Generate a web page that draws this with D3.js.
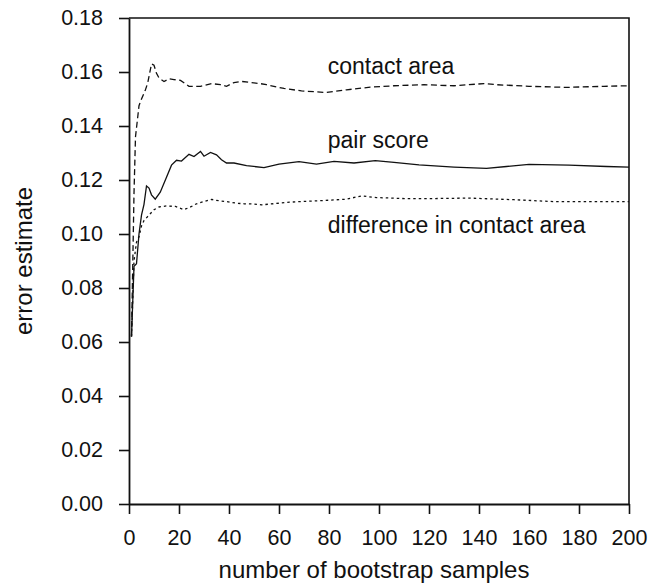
<!DOCTYPE html>
<html>
<head>
<meta charset="utf-8">
<script src="https://cdn.jsdelivr.net/npm/d3@7"></script>
<style>
  body { margin: 0; background: #fff; }
  svg { display: block; font-family: "Liberation Sans", Arial, Helvetica, sans-serif; }
</style>
</head>
<body>
<svg id="chart"></svg>
<script>
const vWidth = 652
const vHeight = 584
const margin = { top: 18, right: 23, bottom: 80, left: 129 }

// [number of bootstrap samples, error estimate]
const contactArea = [
  [1, 0.062], [2, 0.115], [2.6, 0.136], [4, 0.1475], [5, 0.150], [6.5, 0.1532],
  [7.5, 0.156], [9, 0.163], [10, 0.1625], [11, 0.1595], [12, 0.1578], [14, 0.1565],
  [16, 0.1575], [18, 0.1572], [20.6, 0.1569], [24, 0.1547], [28.6, 0.1547],
  [33, 0.1557], [36.6, 0.1553], [39, 0.1547], [42, 0.1561], [45, 0.1565],
  [49, 0.1561], [52.5, 0.1557], [55, 0.1553], [62, 0.1539], [69, 0.1530],
  [79, 0.1524], [87, 0.1534], [96.5, 0.1544], [106, 0.1549], [118, 0.1553],
  [130, 0.1549], [142, 0.1557], [147, 0.1553], [160, 0.1547], [175, 0.1543],
  [190, 0.1547], [200, 0.1549]
]

const pairScore = [
  [1, 0.062], [2, 0.088], [3, 0.089], [4, 0.100], [5, 0.107], [6, 0.111],
  [7, 0.1178], [8, 0.117], [9, 0.1145], [10.5, 0.1129], [12.5, 0.1155],
  [15, 0.121], [17, 0.1255], [19, 0.1273], [21, 0.127], [24, 0.1295],
  [26, 0.1287], [28.6, 0.1306], [30, 0.1288], [32.6, 0.1302], [35, 0.1293],
  [37, 0.1275], [39, 0.1263], [42, 0.1263], [47, 0.1253], [54, 0.1246],
  [60, 0.1259], [68, 0.1268], [75, 0.1259], [82, 0.1269], [90, 0.1263],
  [98.5, 0.1272], [106, 0.1265], [116, 0.1256], [130, 0.1248], [143, 0.1243],
  [151, 0.125], [160, 0.1258], [176, 0.1255], [191, 0.125], [200, 0.1248]
]

const diffContactArea = [
  [1, 0.062], [2, 0.090], [3, 0.097], [4, 0.099], [5, 0.103], [6, 0.105],
  [8, 0.107], [10, 0.109], [12, 0.110], [15, 0.1104], [18.6, 0.1102],
  [22, 0.109], [25, 0.1102], [27, 0.1112], [30, 0.112], [33, 0.1128],
  [36, 0.1123], [39, 0.112], [43, 0.1114], [46, 0.1112], [50, 0.1111],
  [53, 0.1108], [60, 0.1114], [63, 0.1117], [68, 0.112], [76, 0.1123],
  [87, 0.1129], [93, 0.1141], [99, 0.1135], [111, 0.1131], [120, 0.1131],
  [136, 0.1133], [154, 0.1127], [170, 0.112], [185, 0.112], [200, 0.112]
]

const xTicks = [0, 20, 40, 60, 80, 100, 120, 140, 160, 180, 200]
const yTicks = [0, 0.02, 0.04, 0.06, 0.08, 0.10, 0.12, 0.14, 0.16, 0.18]

const labels = [
  { text: 'contact area', x: 79.5, y: 0.1593 },
  { text: 'pair score', x: 79.5, y: 0.1320 },
  { text: 'difference in contact area', x: 79.5, y: 0.1004 }
]

const series = [
  { values: contactArea, dash: '6,3.5' },
  { values: pairScore, dash: null },
  { values: diffContactArea, dash: '2.5,3' }
]

const iW = vWidth - margin.left - margin.right
const iH = vHeight - margin.top - margin.bottom

const svg = d3.select('#chart')
  .attr('width', vWidth)
  .attr('height', vHeight)

const g = svg.append('g')
  .attr('transform', `translate(${margin.left},${margin.top})`)

const x = d3.scaleLinear().domain([0, 200]).range([0, iW])
const y = d3.scaleLinear().domain([0, 0.18]).range([iH, 0])

// frame (top and right)
g.append('path')
  .attr('d', `M0,0H${iW}V${iH}`)
  .attr('fill', 'none')
  .attr('stroke', '#111')
  .attr('stroke-width', 1.6)

const xAxis = g.append('g')
  .attr('transform', `translate(0,${iH})`)
  .call(d3.axisBottom(x).tickValues(xTicks).tickSize(10).tickPadding(16).tickSizeOuter(0))

const yAxis = g.append('g')
  .call(d3.axisLeft(y).tickValues(yTicks).tickFormat(d3.format('.2f')).tickSize(10).tickPadding(16).tickSizeOuter(0))

for (const ax of [xAxis, yAxis]) {
  ax.select('.domain').attr('stroke', '#111').attr('stroke-width', 1.8)
  ax.selectAll('.tick line').attr('stroke', '#111').attr('stroke-width', 1.6)
  ax.selectAll('.tick text')
    .attr('fill', '#111')
    .attr('font-size', '21.5px')
    .attr('font-family', '"Liberation Sans", Arial, sans-serif')
}

const line = d3.line()
  .x((d) => x(d[0]))
  .y((d) => y(d[1]))

g.selectAll('path.series')
  .data(series)
  .enter()
  .append('path')
  .attr('class', 'series')
  .attr('d', (d) => line(d.values))
  .attr('fill', 'none')
  .attr('stroke', '#111')
  .attr('stroke-width', 1.3)
  .attr('stroke-dasharray', (d) => d.dash)

g.selectAll('text.label')
  .data(labels)
  .enter()
  .append('text')
  .attr('class', 'label')
  .attr('x', (d) => x(d.x))
  .attr('y', (d) => y(d.y))
  .attr('font-size', '23px')
  .attr('fill', '#111')
  .text((d) => d.text)

svg.append('text')
  .attr('x', margin.left + iW / 2 - 5)
  .attr('y', 578)
  .attr('text-anchor', 'middle')
  .attr('font-size', '24px')
  .attr('fill', '#111')
  .text('number of bootstrap samples')

svg.append('text')
  .attr('transform', `translate(32,${margin.top + iH / 2}) rotate(-90)`)
  .attr('text-anchor', 'middle')
  .attr('font-size', '24px')
  .attr('fill', '#111')
  .text('error estimate')
</script>
</body>
</html>
